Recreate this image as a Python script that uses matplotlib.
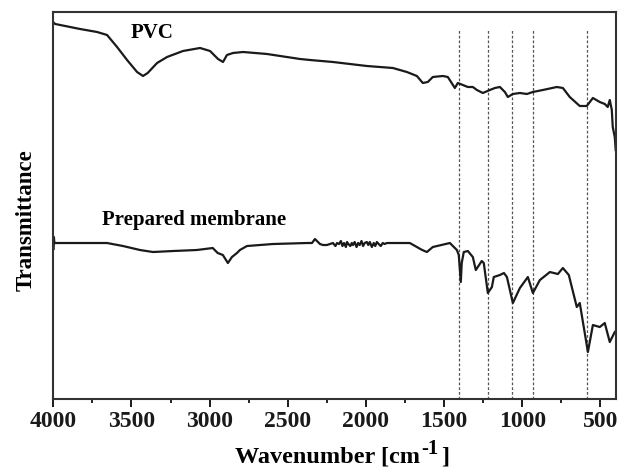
import matplotlib
matplotlib.use("Agg")
import numpy as np
import matplotlib.pyplot as plt
from matplotlib.ticker import MultipleLocator

# transmittance in arbitrary units
pvc_wn = [3995, 3988, 3829, 3720, 3656, 3592, 3528, 3464, 3426, 3396, 3336, 3272,
          3170, 3061, 2997, 2946, 2914, 2889, 2850, 2786, 2633, 2422, 2358, 2211,
          1994, 1828, 1738, 1674, 1636, 1604, 1572, 1508, 1476, 1431, 1412, 1380,
          1348, 1316, 1290, 1252, 1207, 1175, 1143, 1111, 1092, 1060, 1015, 970,
          932, 868, 779, 740, 696, 632, 587, 548, 504, 472, 453, 440, 427, 421,
          408, 402]
pvc_t = [376, 375, 370, 367, 364, 352, 339, 327, 323, 326, 336, 342,
         348, 351, 348, 340, 337, 344, 346, 347, 345, 340, 339, 337,
         333, 331, 327, 323, 316, 317, 322, 323, 322, 311, 316, 314,
         312, 312, 309, 306, 309, 311, 312, 307, 302, 305, 306, 305,
         307, 309, 312, 311, 302, 293, 293, 301, 297, 295, 292, 299, 289, 272,
         262, 249]

mem_wn = [3998, 3996, 3993, 3988, 3765, 3656, 3554, 3445, 3362, 3234, 3082, 2980,
          2948, 2915, 2883, 2857, 2825, 2806, 2761, 2595, 2377, 2345, 2326, 2294,
          2274, 2250, 2230, 2211, 2195, 2185, 2172, 2160, 2150, 2140, 2128, 2121,
          2112, 2100, 2090, 2083, 2072, 2060, 2050, 2040, 2028, 2018, 2008, 1994,
          1985, 1975, 1962, 1950, 1940, 1930, 1918, 1905, 1892, 1880, 1866, 1802,
          1719, 1674, 1640, 1610, 1572, 1463, 1418, 1406, 1393, 1387, 1374, 1348,
          1316, 1297, 1259, 1246, 1220, 1194, 1182, 1143, 1117, 1098, 1060, 1015,
          964, 932, 887, 823, 772, 740, 702, 651, 632, 600, 580, 548, 504, 472,
          440, 408]
mem_t = [150, 162, 156, 156, 156, 156, 153, 149, 147, 148, 149, 151,
         146, 144, 136, 142, 146, 149, 153, 155, 156, 156, 160, 155,
         154, 154, 155, 156, 153, 156, 155, 158, 153, 156, 152, 157,
         155, 153, 156, 154, 157, 152, 156, 154, 158, 153, 156, 157,
         154, 157, 152, 156, 153, 157, 155, 153, 156, 155, 156, 156,
         156, 152, 149, 147, 152, 156, 149, 144, 117, 136, 147, 148,
         142, 129, 138, 136, 106, 112, 122, 124, 126, 122, 96, 111,
         122, 106, 119, 127, 125, 131, 124, 92, 96, 66, 47, 74, 72, 76,
         57, 67]

band_wn = [1405, 1220, 1065, 930, 585]

plt.rcParams['font.family'] = ['Liberation Serif', 'DejaVu Serif']
plt.rcParams['font.weight'] = 'bold'

W, H = 618, 470
fig = plt.figure(figsize=(W / 100, H / 100), dpi=100)
ax = fig.add_axes([0.0862, 0.151, 0.9106, 0.8235])

ax.vlines(band_wn, 0, 369, colors='#555555', linestyles=(0, (2.2, 1.6)), lw=0.9)
ax.plot(pvc_wn, pvc_t, color='#1a1a1a', lw=1.6)
ax.plot(mem_wn, mem_t, color='#1a1a1a', lw=1.6)

ax.text(3368, 366, 'PVC', fontsize=15, fontweight='bold', ha='center', va='center')
ax.text(3100, 179, 'Prepared membrane', fontsize=15, fontweight='bold',
        ha='center', va='center')

ax.set_xlim(4000, 400)
ax.set_ylim(0, 387)
ax.xaxis.set_major_locator(MultipleLocator(500))
ax.xaxis.set_minor_locator(MultipleLocator(250))
ax.set_yticks([])
ax.tick_params(axis='x', which='major', direction='out', length=5.5, width=1.4,
               labelsize=17, pad=3, colors='#1a1a1a')
ax.tick_params(axis='x', which='minor', direction='out', length=3, width=1.2)
for lab in ax.get_xticklabels():
    lab.set_fontweight('bold')
for sp in ax.spines.values():
    sp.set_linewidth(1.5)
    sp.set_color('#333333')

ax.set_ylabel('Transmittance', fontsize=16.5, fontweight='bold')
ax.yaxis.set_label_coords(-0.03, 0.4625)

# x label with a near full-size raised "-1", built from three pieces
r = fig.canvas.get_renderer()
base_y = 1 - 462 / H
t1 = fig.text(235 / W, base_y, 'Wavenumber [cm', fontsize=17.5, fontweight='bold',
              ha='left', va='baseline')
x1 = t1.get_window_extent(r).x1
t2 = fig.text((x1 + 1) / W, base_y + 8 / H, '-1', fontsize=15, fontweight='bold',
              ha='left', va='baseline')
x2 = t2.get_window_extent(r).x1
fig.text((x2 + 3) / W, base_y, ']', fontsize=17.5, fontweight='bold',
         ha='left', va='baseline')

fig.savefig('out.png', dpi=100)
